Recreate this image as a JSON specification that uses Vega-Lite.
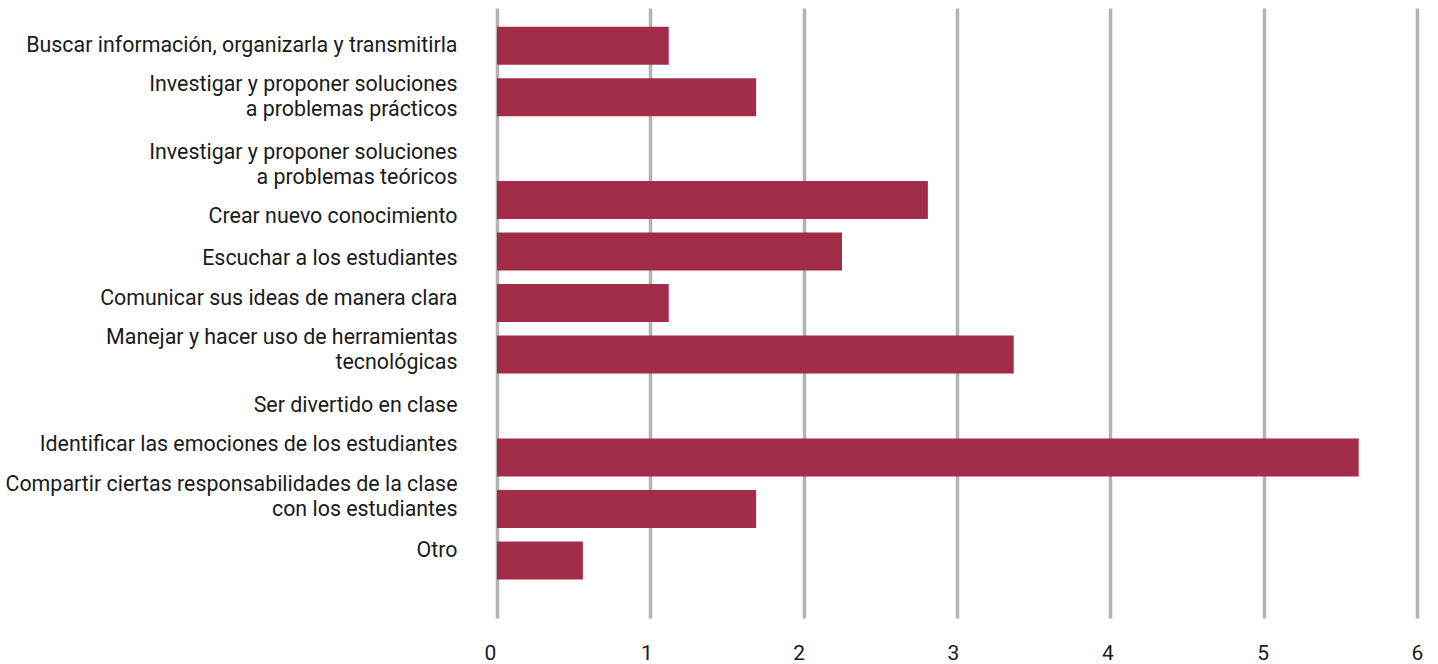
{
  "$schema": "https://vega.github.io/schema/vega-lite/v6.json",
  "autosize": "none",
  "width": 920,
  "height": 610,
  "padding": {"left": 497, "top": 8, "right": 21, "bottom": 46},
  "background": "white",
  "config": {"view": {"stroke": null}, "font": "Roboto"},
  "data": {
    "values": [
      {"actividad": "Buscar información, organizarla y transmitirla", "valor": 1.12},
      {"actividad": "Investigar y proponer soluciones|a problemas prácticos", "valor": 1.69},
      {"actividad": "Investigar y proponer soluciones|a problemas teóricos", "valor": 0},
      {"actividad": "Crear nuevo conocimiento", "valor": 2.81},
      {"actividad": "Escuchar a los estudiantes", "valor": 2.25},
      {"actividad": "Comunicar sus ideas de manera clara", "valor": 1.12},
      {"actividad": "Manejar y hacer uso de herramientas|tecnológicas", "valor": 3.37},
      {"actividad": "Ser divertido en clase", "valor": 0},
      {"actividad": "Identificar las emociones de los estudiantes", "valor": 5.62},
      {"actividad": "Compartir ciertas responsabilidades de la clase|con los estudiantes", "valor": 1.69},
      {"actividad": "Otro", "valor": 0.56}
    ]
  },
  "mark": {"type": "bar", "color": "#A22D48"},
  "encoding": {
    "y": {
      "field": "actividad",
      "type": "nominal",
      "sort": null,
      "scale": {"paddingInner": 0.262, "paddingOuter": 0.556, "align": 0.326},
      "axis": {
        "title": null,
        "domain": false,
        "ticks": false,
        "grid": false,
        "labelExpr": "split(datum.value, '|')",
        "labelFont": "Roboto",
        "labelFontSize": 21.4,
        "labelColor": "#1a1a1a",
        "labelPadding": 40,
        "labelLineHeight": 25,
        "labelLimit": 600,
        "labelOffset": {
          "condition": [
            {"test": "indexof(datum.value, 'prácticos') >= 0", "value": -12.5},
            {"test": "indexof(datum.value, 'teóricos') >= 0", "value": 4.5},
            {"test": "datum.value === 'Crear nuevo conocimiento'", "value": 17},
            {"test": "datum.value === 'Escuchar a los estudiantes'", "value": 7},
            {"test": "datum.value === 'Comunicar sus ideas de manera clara'", "value": -4},
            {"test": "indexof(datum.value, 'Manejar') >= 0", "value": -16.5},
            {"test": "indexof(datum.value, 'Identificar') >= 0", "value": -12},
            {"test": "indexof(datum.value, 'Compartir') >= 0", "value": -23.5},
            {"test": "datum.value === 'Otro'", "value": -9}
          ],
          "value": 0
        }
      }
    },
    "x": {
      "field": "valor",
      "type": "quantitative",
      "scale": {"domain": [0, 6], "nice": false},
      "axis": {
        "title": null,
        "domain": false,
        "ticks": false,
        "values": [0, 1, 2, 3, 4, 5, 6],
        "format": "d",
        "grid": true,
        "gridColor": "#b3b3b3",
        "gridWidth": 3.5,
        "gridOpacity": 1,
        "labelFont": "Roboto",
        "labelFontSize": 21,
        "labelColor": "#1a1a1a",
        "labelPadding": 41,
        "labelBaseline": "alphabetic",
        "labelFlush": false,
        "labelOffset": {
          "condition": [
            {"test": "datum.value === 0", "value": -7},
            {"test": "datum.value === 1", "value": -4},
            {"test": "datum.value === 2", "value": -5},
            {"test": "datum.value === 3", "value": -4},
            {"test": "datum.value === 4", "value": -3},
            {"test": "datum.value === 5", "value": -1}
          ],
          "value": 0
        }
      }
    }
  }
}
